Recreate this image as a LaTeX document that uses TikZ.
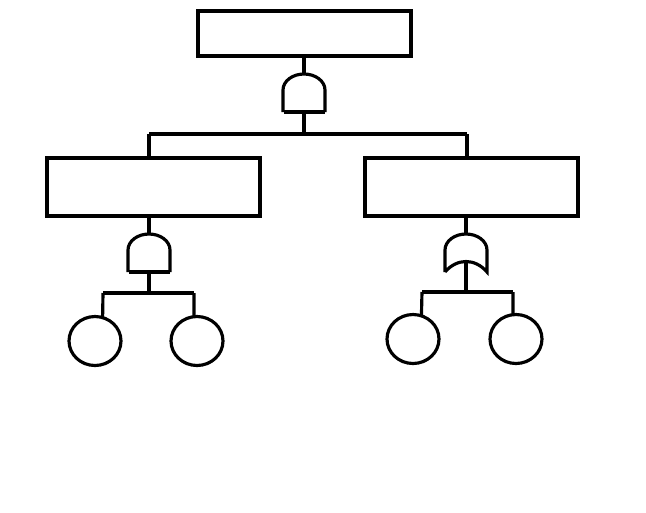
\documentclass[tikz,border=0pt]{standalone}
\usetikzlibrary{shapes.geometric}
\tikzset{
  event/.style={rectangle,draw,line width=1.8pt,minimum width=4.26cm,inner sep=0pt,outer sep=0pt},
  basic/.style={ellipse,draw,line width=1.8pt,minimum width=1.04cm,minimum height=0.98cm,inner sep=0pt,outer sep=0pt},
  pics/andgate/.style={code={
    \draw (-21,38) -- (-21,16) arc[start angle=180,end angle=360,x radius=21,y radius=16] -- (21,38);
    \draw[line width=2.5pt] (-20,38) -- (21,38);
    \coordinate (-in) at (0,0);
    \coordinate (-out) at (0,38);
  }},
  pics/orgate/.style={code={
    \draw (-21,38) -- (-21,16) arc[start angle=180,end angle=360,x radius=21,y radius=16] -- (21,38)
      .. controls (9,24) and (-9,24) .. (-21,38);
    \coordinate (-in) at (0,0);
    \coordinate (-out) at (0,27.5);
  }}
}
\begin{document}
\begin{tikzpicture}[x=0.02cm,y=-0.02cm,line width=1.8pt]
\useasboundingbox (0,0) rectangle (646,512);

\begin{scope}
\node[event,minimum height=0.9cm] (Top) at (304.5,33.5) {};
\node[event,minimum height=1.16cm] (Left) at (153.5,187) {};
\node[event,minimum height=1.16cm] (Right) at (471.5,187) {};
\node[basic] (LeftA) at (95,341) {};
\node[basic] (LeftB) at (197,341) {};
\node[basic] (RightA) at (413,339) {};
\node[basic] (RightB) at (516,339) {};
\end{scope}

\pic (gTop) at (304,74) {andgate};
\pic (gLeft) at (149,234) {andgate};
\pic (gRight) at (466,234) {orgate};

\coordinate (jTop) at (304,134);
\coordinate (jTopL) at (149,134);
\coordinate (jTopR) at (467,134);
\coordinate (jLeft) at (149,293);
\coordinate (jLeftA) at (103,293);
\coordinate (jLeftB) at (194,293);
\coordinate (jRight) at (466,292);
\coordinate (jRightA) at (422,292);
\coordinate (jRightB) at (513,292);

\begin{scope}
    \draw (gTop-in |- Top.south) -- (gTop-in);
    \draw (gTop-out) -- (jTop);
    \draw (jTopL) -- (jTopR);
    \draw (jTopL) -- (jTopL |- Left.north);
    \draw (jTopR) -- (jTopR |- Right.north);
    \draw (gLeft-in |- Left.south) -- (gLeft-in);
    \draw (gRight-in |- Right.south) -- (gRight-in);
    \draw (gLeft-out) -- (jLeft);
    \draw (gRight-out) -- (jRight);
    \draw (jLeftA) -- (jLeftB);
    \draw (jRightA) -- (jRightB);
    \draw (jLeftA) -- (LeftA.72);
    \draw (jLeftB) -- (LeftB.97);
    \draw (jRightA) -- (RightA.70);
    \draw (jRightB) -- (RightB.97);
\end{scope}
\end{tikzpicture}
\end{document}
